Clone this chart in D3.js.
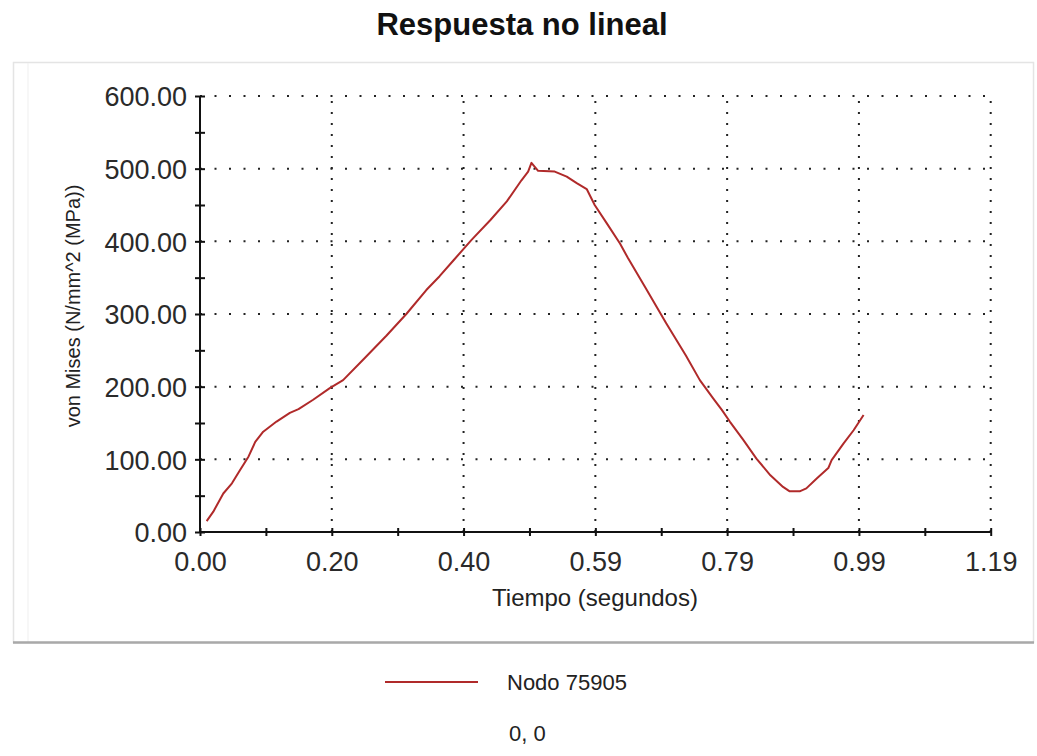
<!DOCTYPE html>
<html>
<head>
<meta charset="utf-8">
<script src="https://cdn.jsdelivr.net/npm/d3@7"></script>
<style>
  html, body { margin: 0; padding: 0; background: #ffffff; }
  svg { display: block; font-family: "Liberation Sans", Arial, sans-serif; }
</style>
</head>
<body>
<svg id="chart" width="1037" height="756"></svg>
<script>
// Time samples (s) and von Mises stress (N/mm^2) for node 75905
const timeValues = [
  0.010, 0.020, 0.035, 0.048, 0.060, 0.073, 0.083, 0.095, 0.115, 0.135,
  0.148, 0.170, 0.195, 0.215, 0.245, 0.280, 0.310, 0.340, 0.360, 0.381,
  0.408, 0.436, 0.461, 0.483, 0.493, 0.498, 0.508, 0.533, 0.551, 0.566,
  0.581, 0.593, 0.611, 0.631, 0.643, 0.670, 0.700, 0.730, 0.751, 0.771,
  0.784, 0.796, 0.816, 0.836, 0.857, 0.876, 0.886, 0.901, 0.911, 0.927,
  0.944, 0.949, 0.967, 0.982, 0.997
];
const vonMises = [
  15, 28, 53, 67, 85, 104, 124, 138, 152, 164,
  169, 182, 198, 209, 237, 270, 300, 333, 352, 374,
  402, 429, 455, 484, 496, 508, 497, 496, 489, 480,
  472, 450, 425, 397, 377, 335, 288, 243, 209, 184,
  168, 152, 127, 101, 78, 62, 56, 56, 60, 74,
  88, 99, 122, 140, 161
];

const xMajorTicks = [0, 0.198, 0.396, 0.594, 0.792, 0.99, 1.188];
const xMinorTicks = [0.099, 0.297, 0.495, 0.693, 0.891, 1.089];
const yMajorTicks = [0, 100, 200, 300, 400, 500, 600];
const yMinorTicks = [50, 150, 250, 350, 450, 550];

const chartTitle = "Respuesta no lineal";
const xAxisTitle = "Tiempo (segundos)";
const yAxisTitle = "von Mises (N/mm^2 (MPa))";
const seriesName = "Nodo 75905";
const footerText = "0, 0";

const svg = d3.select("#chart");
const plot = { left: 200, right: 990.7, top: 96, bottom: 532 };

const x = d3.scaleLinear().domain([0, 1.188]).range([plot.left, plot.right]);
const y = d3.scaleLinear().domain([0, 600]).range([plot.bottom, plot.top]);

// Panel frame
svg.append("rect")
  .attr("x", 13.5).attr("y", 62.5).attr("width", 1020).attr("height", 580)
  .attr("fill", "#ffffff").attr("stroke", "#e4e4e4").attr("stroke-width", 1.5);
svg.append("line")
  .attr("x1", 28).attr("x2", 28).attr("y1", 63).attr("y2", 642)
  .attr("stroke", "#efefef").attr("stroke-width", 1);
svg.append("line")
  .attr("x1", 13).attr("x2", 1034).attr("y1", 642.5).attr("y2", 642.5)
  .attr("stroke", "#a9a9a9").attr("stroke-width", 2.5);

// Title
svg.append("text")
  .attr("x", 522).attr("y", 35)
  .attr("text-anchor", "middle")
  .attr("font-weight", "bold").attr("font-size", 31)
  .attr("fill", "#111")
  .text(chartTitle);

// Dotted grid
const grid = svg.append("g").attr("fill", "none").attr("stroke", "#222").attr("stroke-width", 2);
grid.selectAll("line.h").data(yMajorTicks.filter(d => d > 0)).join("line")
  .attr("class", "h")
  .attr("x1", x(0)).attr("x2", plot.right)
  .attr("y1", d => y(d)).attr("y2", d => y(d))
  .attr("stroke-dasharray", "2,12.5");
grid.selectAll("line.v").data(xMajorTicks.filter(d => d > 0)).join("line")
  .attr("class", "v")
  .attr("x1", d => x(d)).attr("x2", d => x(d))
  .attr("y1", plot.bottom).attr("y2", plot.top)
  .attr("stroke-dasharray", "2,9");

// Axes
const fmt = d3.format(".2f");
const xAxis = d3.axisBottom(x)
  .tickValues(xMajorTicks.concat(xMinorTicks))
  .tickFormat(d => xMajorTicks.includes(d) ? fmt(d) : "")
  .tickSize(4).tickPadding(18);
const yAxis = d3.axisLeft(y)
  .tickValues(yMajorTicks.concat(yMinorTicks))
  .tickFormat(d => yMajorTicks.includes(d) ? fmt(d) : "")
  .tickSize(5).tickPadding(10);

const gx = svg.append("g").attr("transform", `translate(0,${plot.bottom})`).call(xAxis);
const gy = svg.append("g").attr("transform", `translate(${plot.left},0)`).call(yAxis);

[gx, gy].forEach(g => {
  g.select(".domain").attr("stroke", "#111").attr("stroke-width", 2);
  g.selectAll(".tick text")
    .attr("font-family", "Liberation Sans, Arial, sans-serif")
    .attr("font-size", 27).attr("fill", "#2a2a2a");
});
gx.select(".domain").attr("d", `M${plot.left},0H${plot.right}`);
gy.select(".domain").attr("d", `M0,${plot.bottom}V${plot.top}`);
gx.selectAll(".tick line").attr("y1", -4).attr("y2", 4).attr("stroke", "#111").attr("stroke-width", 2);
gy.selectAll(".tick line").attr("x1", -5).attr("x2", 5).attr("stroke", "#111").attr("stroke-width", 2);
gy.selectAll(".tick text").attr("x", -13).attr("dy", "0.36em");
gx.selectAll(".tick text").attr("y", 20).attr("dy", "0.71em");

// Axis titles
svg.append("text")
  .attr("x", 595).attr("y", 606)
  .attr("text-anchor", "middle").attr("font-size", 24).attr("fill", "#222")
  .text(xAxisTitle);
svg.append("text")
  .attr("transform", "translate(80,306) rotate(-90)")
  .attr("text-anchor", "middle").attr("font-size", 20).attr("fill", "#222")
  .text(yAxisTitle);

// Series line
const line = d3.line().x(d => x(d[0])).y(d => y(d[1]));
svg.append("path")
  .datum(timeValues.map((t, i) => [t, vonMises[i]]))
  .attr("fill", "none")
  .attr("stroke", "#b02a2a")
  .attr("stroke-width", 2)
  .attr("stroke-linejoin", "round")
  .attr("d", line);

// Legend
svg.append("line")
  .attr("x1", 385).attr("x2", 478).attr("y1", 682).attr("y2", 682)
  .attr("stroke", "#b02a2a").attr("stroke-width", 2);
svg.append("text")
  .attr("x", 507).attr("y", 690)
  .attr("font-size", 22).attr("fill", "#222")
  .text(seriesName);
svg.append("text")
  .attr("x", 509).attr("y", 741)
  .attr("font-size", 22).attr("fill", "#222")
  .text(footerText);
</script>
</body>
</html>
